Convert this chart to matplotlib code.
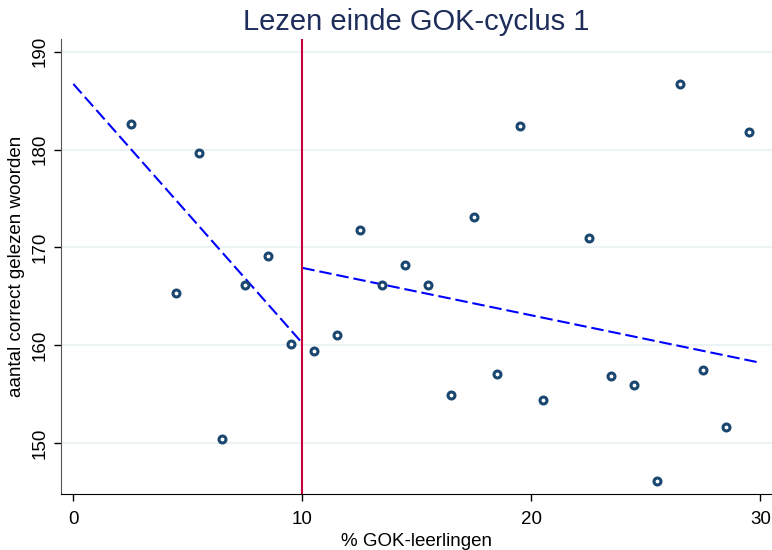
import matplotlib
matplotlib.use("Agg")
import matplotlib.pyplot as plt

plt.rcParams['font.family'] = ['Liberation Sans', 'DejaVu Sans']
plt.rcParams['lines.scale_dashes'] = False

# % GOK-leerlingen per school en aantal correct gelezen woorden
gok_pct = [2.5, 4.5, 5.5, 6.5, 7.5, 8.5, 9.5,
           10.5, 11.5, 12.5, 13.5, 14.5, 15.5, 16.5, 17.5, 18.5, 19.5,
           20.5, 22.5, 23.5, 24.5, 25.5, 26.5, 27.5, 28.5, 29.5]
woorden = [182.6, 165.3, 179.6, 150.4, 166.2, 169.1, 160.15,
           159.4, 161.0, 171.8, 166.2, 168.2, 166.1, 154.9, 173.1, 157.0, 182.4,
           154.4, 171.0, 156.8, 155.95, 146.1, 186.7, 157.5, 151.6, 181.8]

# geschatte regressielijnen links en rechts van de drempel
drempel = 10
fit_links_x = [0, 10]
fit_links_y = [186.7, 160.2]
fit_rechts_x = [10, 30]
fit_rechts_y = [167.9, 158.2]

x_ticks = [0, 10, 20, 30]
y_ticks = [150, 160, 170, 180, 190]

fig = plt.figure(figsize=(7.72, 5.5), dpi=100)
ax = fig.add_axes([61 / 772, 1 - 494.3 / 550, 711 / 772, (494.3 - 39) / 550])

# lichte horizontale rasterlijnen
for yt in y_ticks:
    ax.axhline(yt, color='#eaf2f3', lw=1.3, zorder=0)

ax.plot(fit_links_x, fit_links_y, color='#0000ff', lw=1.5, dashes=(9, 3.5), zorder=2)
ax.plot(fit_rechts_x, fit_rechts_y, color='#0000ff', lw=1.5, dashes=(9, 3.5), zorder=2)
ax.axvline(drempel, color='#c8003c', lw=1.5, zorder=3)

ax.plot(gok_pct, woorden, 'o', ms=5, mfc='white', mec='#1a476f', mew=2.2, zorder=4)

ax.set_xlim(-0.54, 30.51)
ax.set_ylim(144.75, 191.3)
ax.set_xticks(x_ticks)
ax.set_yticks(y_ticks)
ax.tick_params(axis='both', labelsize=13.5, length=5, width=1, colors='black')
ax.tick_params(axis='x', pad=7)
ax.tick_params(axis='y', pad=4)
for lbl in ax.get_yticklabels():
    lbl.set_rotation(90)
    lbl.set_va('center')

for s in ['top', 'right']:
    ax.spines[s].set_visible(False)
ax.spines['left'].set_color('#555555')
ax.spines['bottom'].set_color('black')

ax.set_xlabel('% GOK-leerlingen', fontsize=13.5, labelpad=0)
ax.xaxis.set_label_coords(0.5, -0.085)
ax.set_ylabel('aantal correct gelezen woorden', fontsize=13.5)
ax.yaxis.set_label_coords(-0.05, 0.5)

fig.text(416 / 772, 1 - 30 / 550, 'Lezen einde GOK-cyclus 1', fontsize=21,
         color='#1e2d5a', ha='center', va='baseline')

fig.savefig('out.png', dpi=100)
